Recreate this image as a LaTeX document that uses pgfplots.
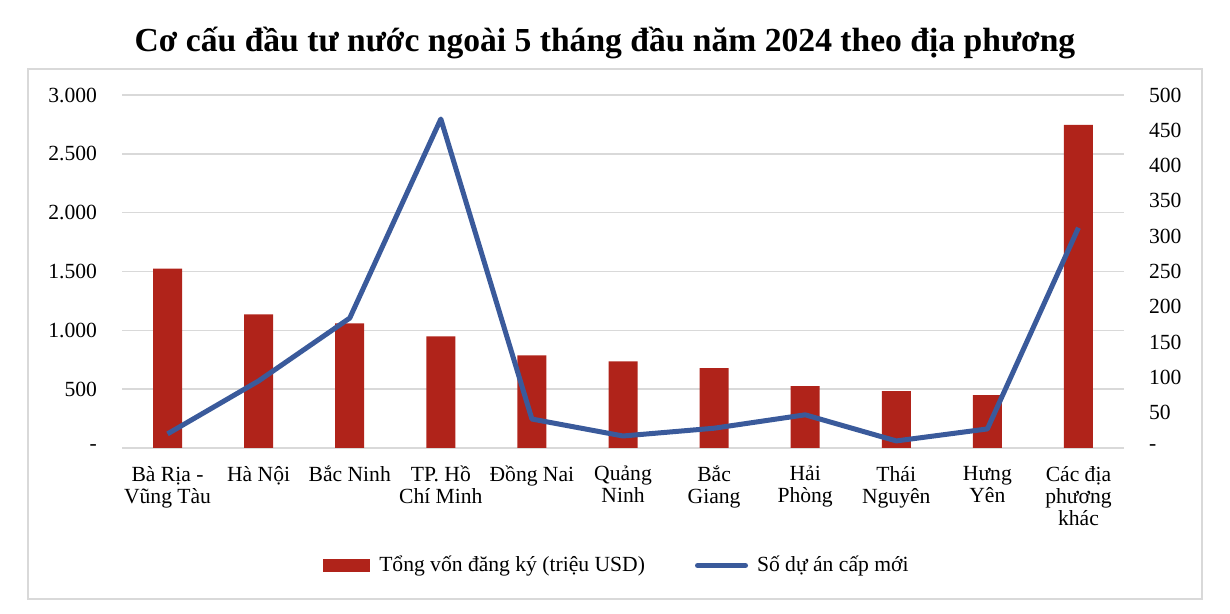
\documentclass[border=0pt]{standalone}
\usepackage{fontspec}
\setmainfont{Liberation Serif}
\usepackage{pgfplots}
\pgfplotsset{compat=1.18}
\definecolor{barred}{HTML}{B0231A}
\definecolor{lineblue}{HTML}{3A5A9B}
\definecolor{gridgray}{HTML}{D9D9D9}
\newcommand{\lbl}{\fontsize{10.8}{11}\selectfont}
\begin{document}
\begin{tikzpicture}[x=0.5pt,y=0.5pt]
\useasboundingbox (0,0) rectangle (1230,614);
\draw[gridgray, line width=1pt] (27.5,15) rectangle (1201.5,545);
\node[font=\bfseries\fontsize{16.8}{19}\selectfont] at (605,571) {Cơ cấu đầu tư nước ngoài 5 tháng đầu năm 2024 theo địa phương};
\begin{axis}[
  at={(61pt,83pt)}, anchor=south west, scale only axis,
  width=501pt, height=176.5pt,
  xmin=-0.5, xmax=10.5, ymin=0, ymax=3000,
  axis line style={draw=none}, major tick length=0,
  ymajorgrids, grid style={gridgray, line width=0.8pt},
  ytick={0,500,1000,1500,2000,2500,3000},
  yticklabels={-,500,1.000,1.500,2.000,2.500,3.000},
  ytick pos=left,
  yticklabel style={font=\lbl, anchor=east, xshift=-9pt},
  xtick={0,...,10},
  xticklabels={{Bà Rịa -\\Vũng Tàu},{Hà Nội},{Bắc Ninh},{TP. Hồ\\Chí Minh},{Đồng Nai},{Quảng\\Ninh},{Bắc\\Giang},{Hải\\Phòng},{Thái\\Nguyên},{Hưng\\Yên},{Các địa\\phương\\khác}},
  xticklabel style={font=\lbl, align=center, anchor=north, yshift=-5.5pt},
  xtick pos=bottom,
]
\addplot[ybar, bar width=14.5pt, fill=barred, draw=none] coordinates {
(0,1525) (1,1136) (2,1059) (3,949) (4,788) (5,737) (6,678) (7,525) (8,483) (9,449) (10,2746)};
\end{axis}
\begin{axis}[
  at={(61pt,83pt)}, anchor=south west, scale only axis,
  width=501pt, height=176.5pt,
  xmin=-0.5, xmax=10.5, ymin=0, ymax=500,
  axis line style={draw=none}, major tick length=0,
  xtick=\empty,
  ytick={0,50,...,500},
  yticklabels={-,50,100,150,200,250,300,350,400,450,500},
  ytick pos=right, yticklabel pos=right,
  yticklabel style={font=\lbl, anchor=west, xshift=9pt},
  legend style={at={(0.495,-0.333)}, anchor=center, draw=none, fill=none,
    legend columns=2, font=\lbl,
    /tikz/every odd column/.append style={column sep=2.5pt},
    /tikz/every even column/.append style={column sep=23pt}},
]
\addlegendimage{legend image code/.code={\fill[barred] (0pt,-3pt) rectangle (23pt,3pt);}}
\addlegendentry{Tổng vốn đăng ký (triệu USD)}
\addplot[lineblue, line width=2.5pt, line join=round, legend image code/.code={\draw[lineblue, line width=2.5pt, line cap=round] (0pt,0pt) -- (24pt,0pt);}] coordinates {
(0,20) (1,95) (2,184) (3,466) (4,41) (5,17) (6,28) (7,47) (8,10) (9,27) (10,312)};
\addlegendentry{Số dự án cấp mới}
\end{axis}
\end{tikzpicture}
\end{document}
